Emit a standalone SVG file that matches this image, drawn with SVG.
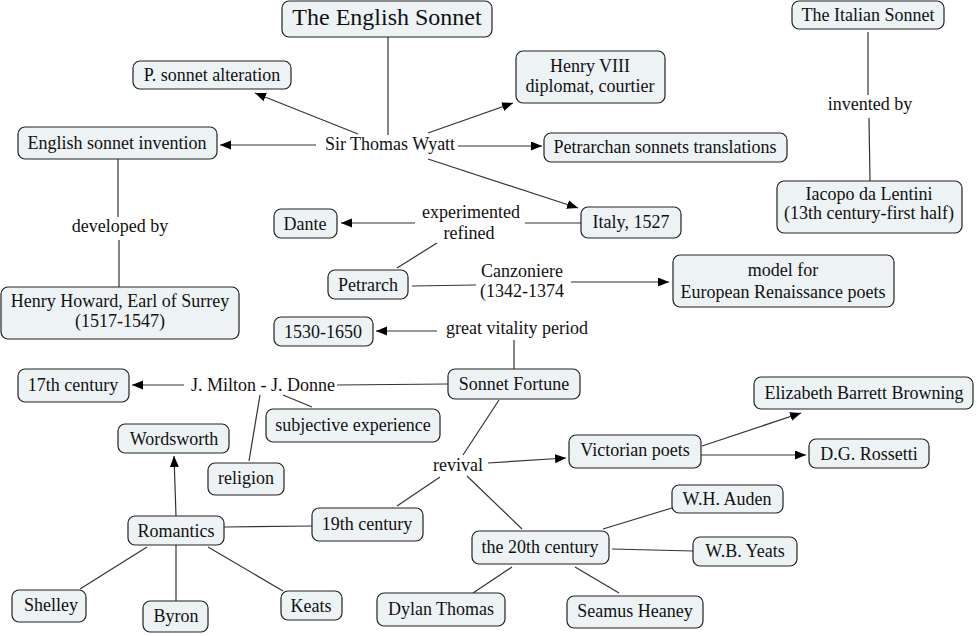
<svg xmlns="http://www.w3.org/2000/svg" width="977" height="636" viewBox="0 0 977 636">
<defs>
<marker id="ah" markerUnits="userSpaceOnUse" markerWidth="12" markerHeight="10" refX="11" refY="4.5" orient="auto">
<path d="M0,0 L11,4.5 L0,9 z" fill="#000"/>
</marker>
<style>
rect{fill:#edf3f5;stroke:#222;stroke-width:1.2}
text{font-family:"Liberation Serif","Times New Roman",serif;font-size:18px;fill:#111;text-anchor:middle}
.c line{stroke:#333;stroke-width:1.2;fill:none}
.a{marker-end:url(#ah)}
</style>
</defs>
<rect x="0" y="0" width="977" height="636" style="fill:#fff;stroke:none"/>
<g class="c" id="connectors">
<line x1="388" y1="37" x2="388" y2="135"/>
<line class="a" x1="358" y1="134" x2="255" y2="93"/>
<line class="a" x1="316" y1="145" x2="220" y2="145"/>
<line class="a" x1="428" y1="133" x2="513" y2="103"/>
<line class="a" x1="458" y1="146" x2="542" y2="146"/>
<line class="a" x1="428" y1="159" x2="578" y2="208"/>
<line x1="118" y1="159" x2="118" y2="217"/>
<line x1="119" y1="240" x2="119" y2="287"/>
<line x1="868" y1="32" x2="868" y2="95"/>
<line x1="869" y1="118" x2="870" y2="181"/>
<line x1="581" y1="223" x2="525" y2="223"/>
<line class="a" x1="415" y1="223" x2="341" y2="223"/>
<line x1="437" y1="243" x2="397" y2="268"/>
<line x1="412" y1="286" x2="476" y2="285"/>
<line class="a" x1="571" y1="282" x2="669" y2="282"/>
<line class="a" x1="437" y1="331" x2="376" y2="331"/>
<line x1="514" y1="369" x2="514" y2="340"/>
<line x1="448" y1="384" x2="337" y2="385"/>
<line class="a" x1="184" y1="385" x2="132" y2="385"/>
<line x1="283" y1="395" x2="312" y2="407"/>
<line x1="260" y1="395" x2="249" y2="461"/>
<line x1="499" y1="400" x2="463" y2="455"/>
<line x1="440" y1="477" x2="397" y2="506"/>
<line class="a" x1="488" y1="463" x2="566" y2="458"/>
<line x1="467" y1="476" x2="522" y2="529"/>
<line x1="312" y1="526" x2="224" y2="527"/>
<line class="a" x1="176" y1="516" x2="174" y2="456"/>
<line x1="147" y1="547" x2="80" y2="589"/>
<line x1="176" y1="545" x2="176" y2="601"/>
<line x1="208" y1="547" x2="283" y2="591"/>
<line class="a" x1="702" y1="446" x2="801" y2="413"/>
<line class="a" x1="701" y1="455" x2="806" y2="455"/>
<line x1="603" y1="529" x2="672" y2="508"/>
<line x1="612" y1="549" x2="693" y2="551"/>
<line x1="512" y1="567" x2="473" y2="593"/>
<line x1="575" y1="567" x2="619" y2="593"/>
</g>
<g id="english-sonnet"><rect x="282" y="1" width="210" height="36" rx="7"/><text x="387" y="25" style="font-size:24px">The English Sonnet</text></g>
<g id="p-sonnet-alteration"><rect x="133" y="61" width="158" height="28" rx="7"/><text x="212" y="81">P. sonnet alteration</text></g>
<g id="english-sonnet-invention"><rect x="18" y="127" width="199" height="32" rx="7"/><text x="117" y="149">English sonnet invention</text></g>
<g id="henry-viii"><rect x="516" y="51" width="149" height="52" rx="7"/><text x="590" y="72">Henry VIII</text><text x="590" y="92">diplomat, courtier</text></g>
<g id="petrarchan-translations"><rect x="544" y="133" width="243" height="29" rx="7"/><text x="665" y="153">Petrarchan sonnets translations</text></g>
<g id="italy"><rect x="581" y="207" width="100" height="31" rx="7"/><text x="631" y="228">Italy, 1527</text></g>
<g id="italian-sonnet"><rect x="792" y="1" width="152" height="28" rx="7"/><text x="868" y="21">The Italian Sonnet</text></g>
<g id="iacopo"><rect x="777" y="181" width="185" height="52" rx="7"/><text x="869" y="200">Iacopo da Lentini</text><text x="869" y="219">(13th century-first half)</text></g>
<g id="henry-howard"><rect x="1" y="287" width="238" height="52" rx="7"/><text x="120" y="307">Henry Howard, Earl of Surrey</text><text x="120" y="327">(1517-1547)</text></g>
<g id="dante"><rect x="274" y="209" width="63" height="29" rx="7"/><text x="305" y="230">Dante</text></g>
<g id="petrarch"><rect x="328" y="270" width="80" height="29" rx="7"/><text x="368" y="291">Petrarch</text></g>
<g id="model-for"><rect x="673" y="255" width="221" height="52" rx="7"/><text x="783" y="276">model for</text><text x="783" y="298">European Renaissance poets</text></g>
<g id="p1530-1650"><rect x="274" y="317" width="99" height="29" rx="7"/><text x="323" y="338">1530-1650</text></g>
<g id="sonnet-fortune"><rect x="448" y="369" width="132" height="30" rx="7"/><text x="514" y="390">Sonnet Fortune</text></g>
<g id="c17"><rect x="18" y="369" width="111" height="33" rx="7"/><text x="73" y="391">17th century</text></g>
<g id="subjective"><rect x="266" y="409" width="174" height="33" rx="7"/><text x="353" y="431">subjective experience</text></g>
<g id="religion"><rect x="208" y="463" width="76" height="32" rx="7"/><text x="246" y="484">religion</text></g>
<g id="wordsworth"><rect x="118" y="424" width="111" height="29" rx="7"/><text x="174" y="445">Wordsworth</text></g>
<g id="romantics"><rect x="128" y="516" width="96" height="29" rx="7"/><text x="176" y="537">Romantics</text></g>
<g id="c19"><rect x="312" y="508" width="111" height="33" rx="7"/><text x="367" y="530">19th century</text></g>
<g id="shelley"><rect x="12" y="590" width="74" height="32" rx="7"/><text x="51" y="611">Shelley</text></g>
<g id="byron"><rect x="143" y="601" width="65" height="31" rx="7"/><text x="176" y="622">Byron</text></g>
<g id="keats"><rect x="281" y="591" width="61" height="29" rx="7"/><text x="311" y="612">Keats</text></g>
<g id="dylan-thomas"><rect x="377" y="593" width="128" height="33" rx="7"/><text x="441" y="615">Dylan Thomas</text></g>
<g id="victorian"><rect x="569" y="435" width="132" height="33" rx="7"/><text x="635" y="456">Victorian poets</text></g>
<g id="elizabeth"><rect x="754" y="377" width="219" height="32" rx="7"/><text x="864" y="399">Elizabeth Barrett Browning</text></g>
<g id="rossetti"><rect x="809" y="439" width="120" height="29" rx="7"/><text x="869" y="460">D.G. Rossetti</text></g>
<g id="c20"><rect x="472" y="531" width="137" height="33" rx="7"/><text x="540" y="553">the 20th century</text></g>
<g id="auden"><rect x="672" y="485" width="111" height="28" rx="7"/><text x="727" y="505">W.H. Auden</text></g>
<g id="yeats"><rect x="693" y="537" width="104" height="29" rx="7"/><text x="745" y="557">W.B. Yeats</text></g>
<g id="heaney"><rect x="567" y="596" width="136" height="32" rx="7"/><text x="635" y="617">Seamus Heaney</text></g>
<g id="labels">
<text x="390" y="150">Sir Thomas Wyatt</text>
<text x="120" y="232">developed by</text>
<text x="870" y="110">invented by</text>
<text x="471" y="218">experimented</text>
<text x="469" y="239">refined</text>
<text x="522" y="277">Canzoniere</text>
<text x="522" y="297">(1342-1374</text>
<text x="517" y="334">great vitality period</text>
<text x="263" y="391">J. Milton - J. Donne</text>
<text x="458" y="471">revival</text>
</g>
</svg>
